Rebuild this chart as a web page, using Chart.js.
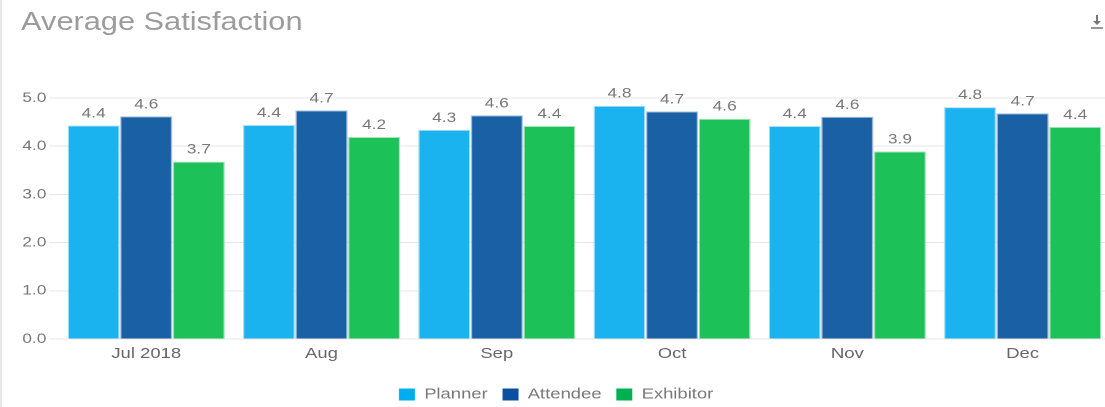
<!DOCTYPE html>
<html>
<head>
<meta charset="utf-8">
<script src="https://cdn.jsdelivr.net/npm/chart.js@4.4.0/dist/chart.umd.min.js"></script>
<style>
  html, body { margin: 0; padding: 0; background: #fff; overflow: hidden; width: 1105px; height: 407px; }
  #edge { position: absolute; left: 0; top: 0; width: 2px; height: 407px; background: #e8e8e8; }
  #wrap { position: absolute; left: 2px; top: 0; width: 904px; height: 407px; transform: scaleX(1.23); transform-origin: 0 0; }
  #title { position: absolute; left: 15.5px; top: 6px; line-height: 30px; font-family: "Liberation Sans", Arial, sans-serif; font-size: 25px; color: #9c9c9c; white-space: nowrap; }
  #cwrap { position: absolute; left: 0; top: 0; width: 904px; height: 407px; }
  #dl { position: absolute; left: 1091px; top: 15px; width: 12px; height: 16px; }
  #dl .stem { position: absolute; left: 5px; top: 0; width: 2px; height: 8px; background: #777; }
  #dl .head { position: absolute; left: 2px; top: 6px; width: 0; height: 0; border-left: 4px solid transparent; border-right: 4px solid transparent; border-top: 4px solid #777; }
  #dl .base { position: absolute; left: 0; top: 12px; width: 12px; height: 2px; background: #999; }
</style>
</head>
<body>
<div id="edge"></div>
<div id="wrap">
  <div id="cwrap"><canvas id="c"></canvas></div>
  <div id="title">Average Satisfaction</div>
</div>
<div id="dl"><div class="stem"></div><div class="head"></div><div class="base"></div></div>
<script>
const categories = ["Jul 2018", "Aug", "Sep", "Oct", "Nov", "Dec"];
const planner   = [4.43, 4.44, 4.34, 4.84, 4.42, 4.81];
const attendee  = [4.62, 4.74, 4.64, 4.72, 4.61, 4.68];
const exhibitor = [3.68, 4.19, 4.42, 4.57, 3.89, 4.40];
const yTicks = [0, 1, 2, 3, 4, 5];
const seriesNames = ["Planner", "Attendee", "Exhibitor"];
const legendColors = ["#00aeef", "#0a4fa0", "#00b14f"];

const FONT = '"Liberation Sans", Arial, sans-serif';

const valueLabels = {
  id: 'valueLabels',
  afterDatasetsDraw(chart) {
    const ctx = chart.ctx;
    ctx.save();
    ctx.font = '14px ' + FONT;
    ctx.fillStyle = '#777';
    ctx.textAlign = 'center';
    ctx.textBaseline = 'alphabetic';
    chart.data.datasets.forEach((ds, i) => {
      chart.getDatasetMeta(i).data.forEach((bar, j) => {
        ctx.fillText(ds.data[j].toFixed(1), bar.x, bar.y - 8);
      });
    });
    ctx.restore();
  }
};

new Chart(document.getElementById('c'), {
  type: 'bar',
  data: {
    labels: categories,
    datasets: [
      { label: seriesNames[0], data: planner, backgroundColor: '#1ab2ef', borderColor: '#aee0f6', borderWidth: 1 },
      { label: seriesNames[1], data: attendee, backgroundColor: '#1a60a5', borderColor: '#9fbad8', borderWidth: 1 },
      { label: seriesNames[2], data: exhibitor, backgroundColor: '#1cc158', borderColor: '#a6e4bd', borderWidth: 1 }
    ]
  },
  options: {
    responsive: true,
    maintainAspectRatio: false,
    animation: false,
    devicePixelRatio: 2,
    layout: { padding: { left: 0, right: 3, top: 98, bottom: -5 } },
    datasets: { bar: { categoryPercentage: 0.9, barPercentage: 0.99 } },
    plugins: {
      title: { display: false },
      legend: {
        position: 'bottom',
        labels: {
          boxWidth: 13, boxHeight: 12, padding: 12,
          color: '#777',
          font: { family: FONT, size: 15 },
          generateLabels(chart) {
            return chart.data.datasets.map((ds, i) => ({
              text: ds.label, fillStyle: legendColors[i], strokeStyle: legendColors[i],
              lineWidth: 0, hidden: false, datasetIndex: i, fontColor: '#777'
            }));
          }
        }
      },
      tooltip: { enabled: false }
    },
    scales: {
      x: {
        grid: { display: false, tickLength: 0 },
        border: { display: false },
        afterFit(scale) { scale.height = 36; },
        ticks: { color: '#666', font: { family: FONT, size: 15 }, padding: 6 }
      },
      y: {
        min: 0, max: 5,
        afterBuildTicks(scale) { scale.ticks = yTicks.map(v => ({ value: v })); },
        afterFit(scale) { scale.width = 46; },
        grid: { color: '#e6e6e6', drawTicks: true, tickLength: 8 },
        border: { display: false },
        ticks: {
          color: '#777', padding: 2,
          font: { family: FONT, size: 14 },
          callback: v => Number(v).toFixed(1)
        }
      }
    }
  },
  plugins: [valueLabels]
});
</script>
</body>
</html>
